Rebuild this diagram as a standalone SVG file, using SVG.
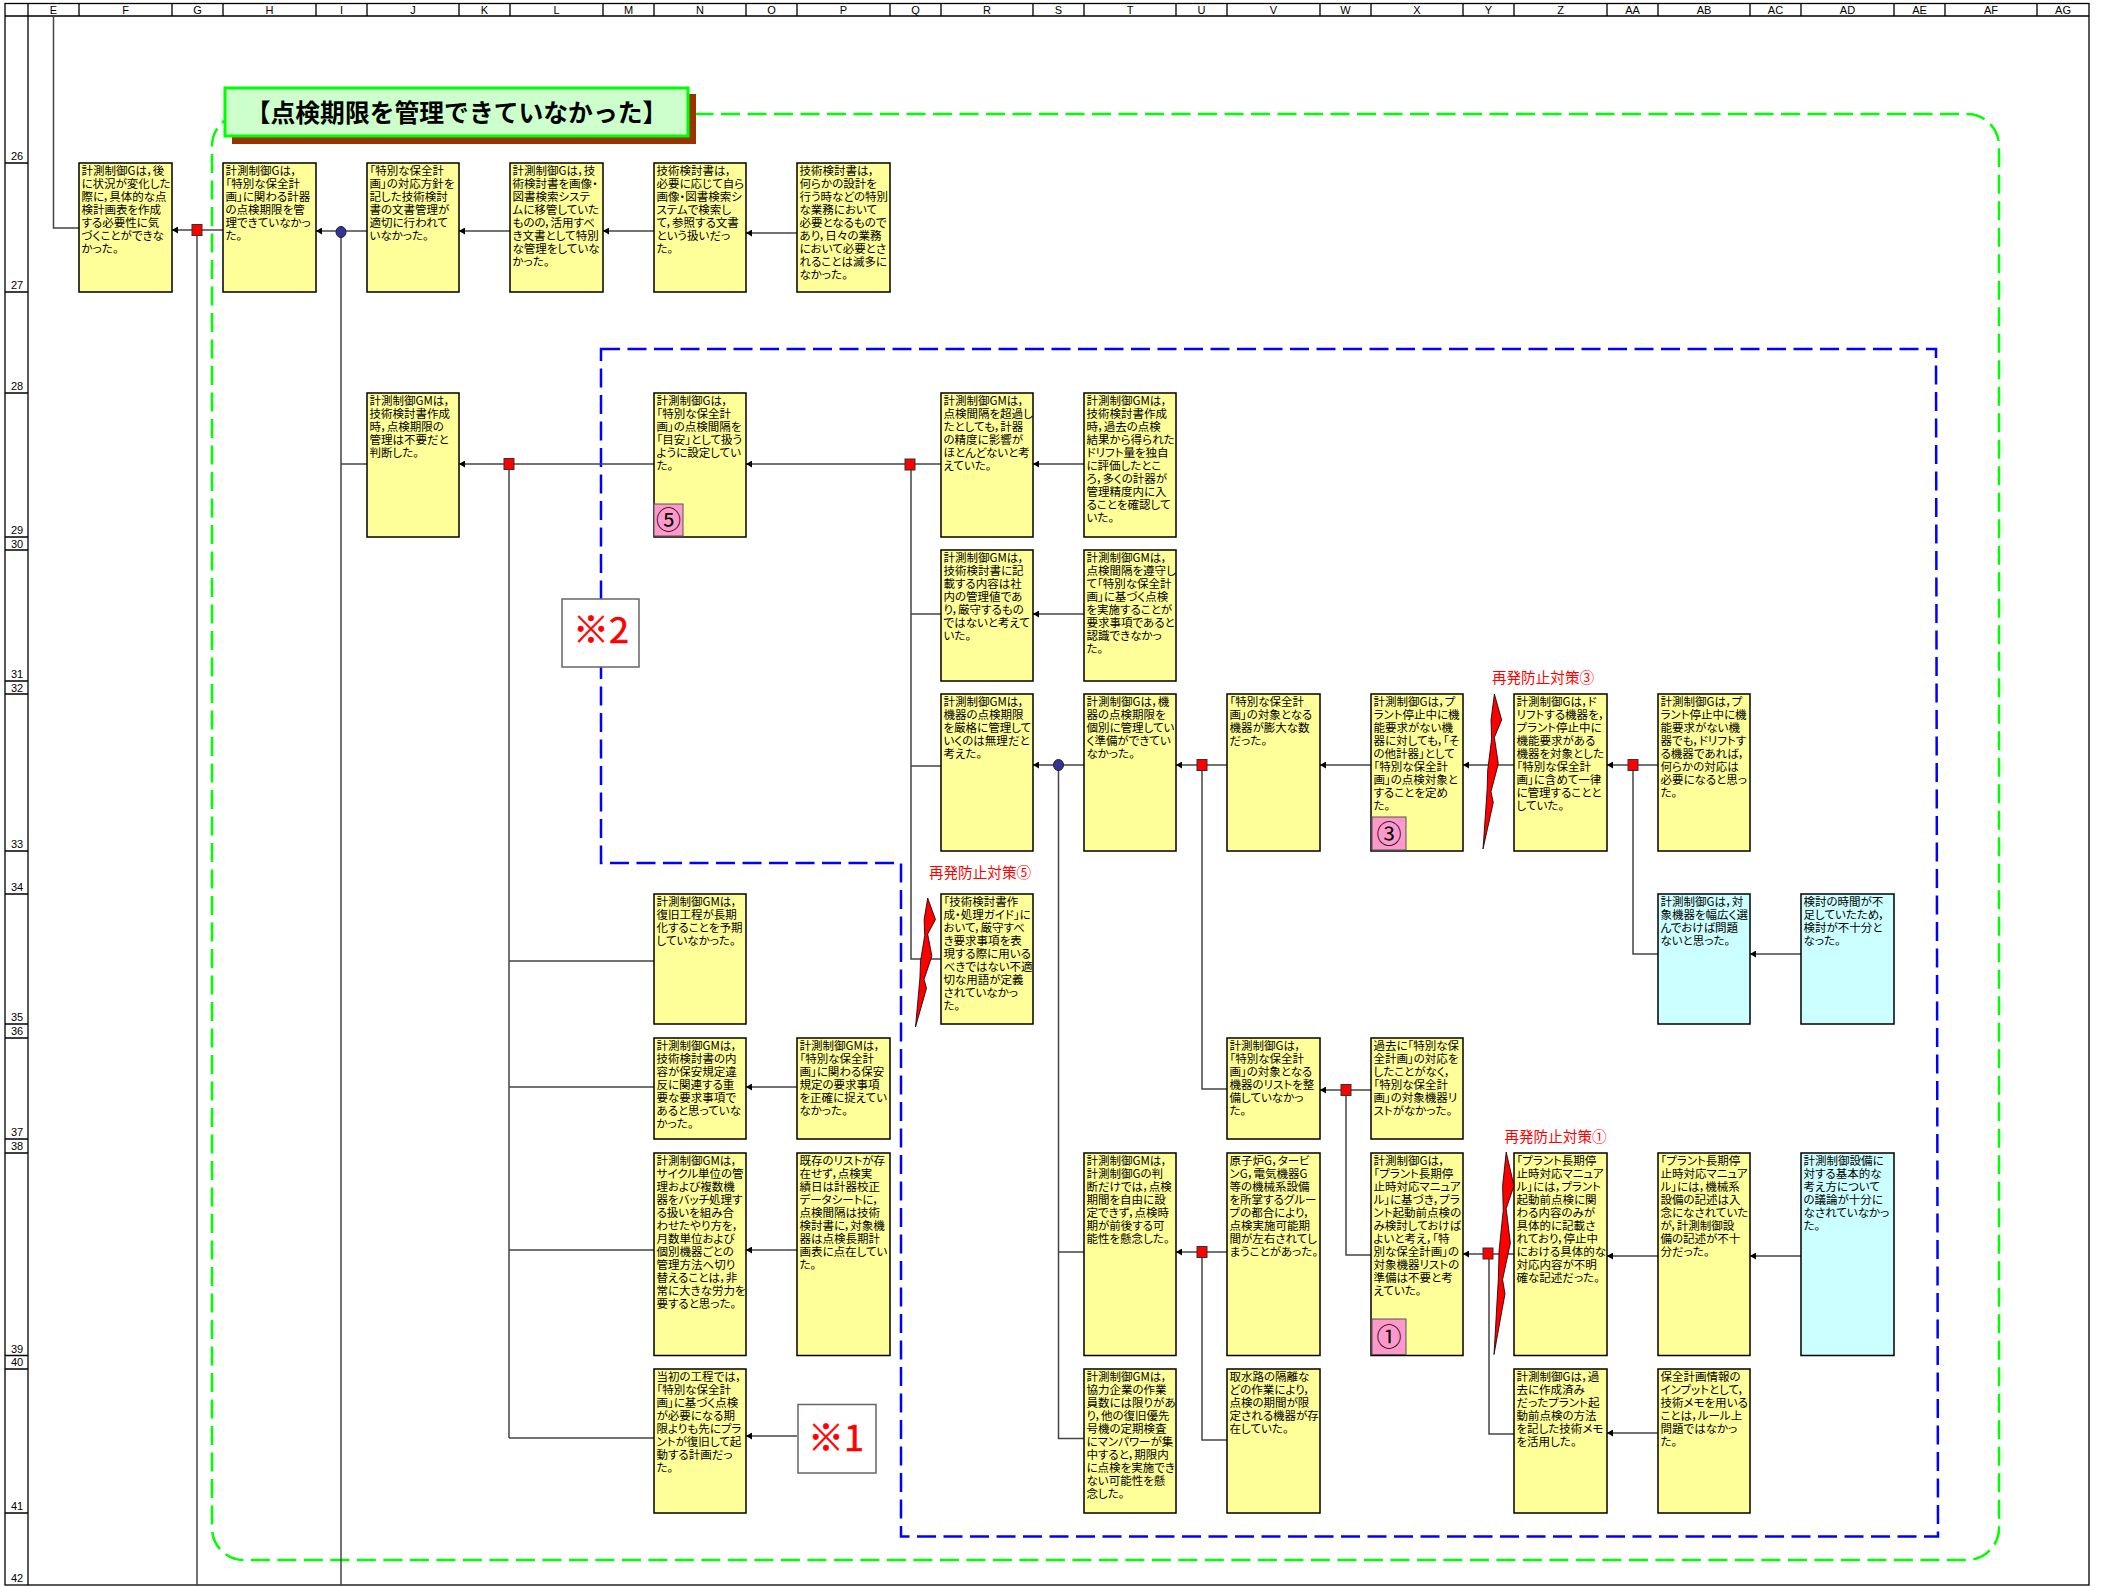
<svg xmlns="http://www.w3.org/2000/svg" width="2110" height="1586" viewBox="0 0 2110 1586">
<style>
.g{stroke:#000;stroke-width:1.3;fill:none}
.h{font:11px "Liberation Sans",Arial,sans-serif;fill:#000;text-anchor:middle}
.c{fill:none;stroke:#444;stroke-width:1.5}
.a{marker-end:url(#ah)}
.j{fill:#f00;stroke:#333;stroke-width:1}
.o{fill:#339;stroke:#222;stroke-width:1}
.y{fill:#ff9;stroke:#000;stroke-width:1.5}
.b{fill:#cff;stroke:#000;stroke-width:1.5}
.t{font-family:"Noto Sans CJK JP","Noto Sans",sans-serif;font-size:11.5px;fill:#000;font-feature-settings:"palt"}
.r{font-family:"Noto Sans CJK JP","Noto Sans",sans-serif;font-size:14.6px;fill:#f00;text-anchor:middle}
.p{fill:#f9c;stroke:#555;stroke-width:1}
.n{font-family:"Noto Sans CJK JP",sans-serif;font-size:25px;fill:#000;text-anchor:middle}
.k{fill:#fff;stroke:#666;stroke-width:1.5}
.m{font-family:"Noto Sans CJK JP","Liberation Sans",sans-serif;font-size:36px;fill:#f00;stroke:#f00;stroke-width:.6;text-anchor:middle}
.z{fill:#f00;stroke:#000;stroke-width:.8}
</style>
<defs>
<marker id="ah" markerUnits="userSpaceOnUse" markerWidth="6" markerHeight="7" refX="6" refY="3.5" orient="auto" viewBox="0 0 6 7"><path d="M0 0L6 3.5L0 7Z" fill="#000"/></marker>
</defs>
<rect width="2110" height="1586" fill="#fff"/>
<g id="grid">
<rect class="g" x="5" y="3.5" width="2084" height="1581.5"/>
<path class="g" d="M5 16H2089M28 3V1585M79 3V16M172 3V16M223 3V16M316 3V16M367 3V16M459 3V16M510 3V16M603 3V16M654 3V16M746 3V16M797 3V16M890 3V16M941 3V16M1033 3V16M1084 3V16M1176 3V16M1227 3V16M1320 3V16M1371 3V16M1463 3V16M1514 3V16M1607 3V16M1658 3V16M1750 3V16M1801 3V16M1894 3V16M1945 3V16M2037 3V16M5 163H28M5 292H28M5 393H28M5 537H28M5 550H28M5 681H28M5 694H28M5 851H28M5 894H28M5 1024H28M5 1038H28M5 1139H28M5 1153H28M5 1355.5H28M5 1369H28M5 1513H28"/>
<text class="h" x="53.5" y="14">E</text><text class="h" x="125.5" y="14">F</text><text class="h" x="197.5" y="14">G</text><text class="h" x="269.5" y="14">H</text><text class="h" x="341.5" y="14">I</text><text class="h" x="413" y="14">J</text><text class="h" x="484.5" y="14">K</text><text class="h" x="556.5" y="14">L</text><text class="h" x="628.5" y="14">M</text><text class="h" x="700" y="14">N</text><text class="h" x="771.5" y="14">O</text><text class="h" x="843.5" y="14">P</text><text class="h" x="915.5" y="14">Q</text><text class="h" x="987" y="14">R</text><text class="h" x="1058.5" y="14">S</text><text class="h" x="1130" y="14">T</text><text class="h" x="1201.5" y="14">U</text><text class="h" x="1273.5" y="14">V</text><text class="h" x="1345.5" y="14">W</text><text class="h" x="1417" y="14">X</text><text class="h" x="1488.5" y="14">Y</text><text class="h" x="1560.5" y="14">Z</text><text class="h" x="1632.5" y="14">AA</text><text class="h" x="1704" y="14">AB</text><text class="h" x="1775.5" y="14">AC</text><text class="h" x="1847.5" y="14">AD</text><text class="h" x="1919.5" y="14">AE</text><text class="h" x="1991" y="14">AF</text><text class="h" x="2063" y="14">AG</text>
<text class="h" x="17" y="160">26</text><text class="h" x="17" y="289">27</text><text class="h" x="17" y="390">28</text><text class="h" x="17" y="534">29</text><text class="h" x="17" y="547.5">30</text><text class="h" x="17" y="678">31</text><text class="h" x="17" y="691.5">32</text><text class="h" x="17" y="848">33</text><text class="h" x="17" y="891">34</text><text class="h" x="17" y="1021">35</text><text class="h" x="17" y="1035">36</text><text class="h" x="17" y="1136">37</text><text class="h" x="17" y="1150">38</text><text class="h" x="17" y="1352.5">39</text><text class="h" x="17" y="1366">40</text><text class="h" x="17" y="1510">41</text><text class="h" x="17" y="1582">42</text>
</g>
<g id="frames" fill="none" stroke-width="2.5" stroke-dasharray="19 7.5">
<path id="frame-green" stroke="#0f0" d="M244 114H1967A32 32 0 0 1 1999 146V1528A32 32 0 0 1 1967 1560H244A32 32 0 0 1 212 1528V146A32 32 0 0 1 244 114Z"/>
<path id="frame-blue" stroke="#00f" d="M601 349H1936L1938 1536.500H901V863H601Z"/>
</g>
<g id="connectors">
<path class="c" d="M79 228H53.500V16M197 230V1585M341 232V1585M367 464H341M509 464V1438M509 961H654M509 1087H654M509 1250H654M509 1438H654M911 464V959H941M911 614H941M911 766H941M1058.500 765V1438.500H1084M1058.500 1252H1084M1202 765V1089H1227M1633 765V954H1658M1346 1090V1255H1371M1202 1252V1440H1227M1489 1254V1434H1514"/>
<path class="c a" d="M223 230H172"/><path class="c a" d="M367 231H316"/><path class="c a" d="M510 231H459"/><path class="c a" d="M654 231H603"/><path class="c a" d="M797 233H746"/>
<path class="c a" d="M654 464H459"/><path class="c a" d="M941 464H746"/><path class="c a" d="M1084 464H1033"/><path class="c a" d="M1084 614H1033"/><path class="c a" d="M1084 765H1033"/>
<path class="c a" d="M1227 765H1176"/><path class="c a" d="M1371 765H1320"/><path class="c a" d="M1514 765H1463"/><path class="c a" d="M1658 765H1607"/><path class="c a" d="M1801 954H1750"/>
<path class="c a" d="M1371 1090H1320"/><path class="c a" d="M1227 1252H1176"/><path class="c a" d="M1514 1254H1463"/><path class="c a" d="M1658 1256H1607"/><path class="c a" d="M1801 1256H1750"/><path class="c a" d="M1658 1433H1607"/>
<path class="c a" d="M797 1087H746"/><path class="c a" d="M797 1250H746"/><path class="c a" d="M797 1436H746"/>
<rect class="j" x="192" y="224.500" width="10" height="11"/><rect class="j" x="504" y="458.500" width="10" height="11"/><rect class="j" x="905" y="459" width="10" height="11"/><rect class="j" x="1197" y="759.500" width="10" height="11"/><rect class="j" x="1628" y="759.500" width="10" height="11"/><rect class="j" x="1341" y="1084.500" width="10" height="11"/><rect class="j" x="1197" y="1246.500" width="10" height="11"/><rect class="j" x="1483" y="1248" width="10" height="11"/>
<ellipse class="o" cx="341" cy="232" rx="5" ry="5.500"/><ellipse class="o" cx="1058.500" cy="765" rx="5" ry="5.500"/>
</g>
<g id="n-F26" transform="translate(79,163)"><rect class="y" width="93" height="129"/><text class="t"><tspan x="2.500" y="11.500">計測制御Gは，後</tspan><tspan x="2.500" dy="13">に状況が変化した</tspan><tspan x="2.500" dy="13">際に，具体的な点</tspan><tspan x="2.500" dy="13">検計画表を作成</tspan><tspan x="2.500" dy="13">する必要性に気</tspan><tspan x="2.500" dy="13">づくことができな</tspan><tspan x="2.500" dy="13">かった。</tspan></text></g>
<g id="n-H26" transform="translate(223,163)"><rect class="y" width="93" height="129"/><text class="t"><tspan x="2.500" y="11.500">計測制御Gは，</tspan><tspan x="2.500" dy="13">「特別な保全計</tspan><tspan x="2.500" dy="13">画」に関わる計器</tspan><tspan x="2.500" dy="13">の点検期限を管</tspan><tspan x="2.500" dy="13">理できていなかっ</tspan><tspan x="2.500" dy="13">た。</tspan></text></g>
<g id="n-J26" transform="translate(367,163)"><rect class="y" width="92" height="129"/><text class="t"><tspan x="2.500" y="11.500">「特別な保全計</tspan><tspan x="2.500" dy="13">画」の対応方針を</tspan><tspan x="2.500" dy="13">記した技術検討</tspan><tspan x="2.500" dy="13">書の文書管理が</tspan><tspan x="2.500" dy="13">適切に行われて</tspan><tspan x="2.500" dy="13">いなかった。</tspan></text></g>
<g id="n-L26" transform="translate(510,163)"><rect class="y" width="93" height="129"/><text class="t"><tspan x="2.500" y="11.500">計測制御Gは，技</tspan><tspan x="2.500" dy="13">術検討書を画像・</tspan><tspan x="2.500" dy="13">図書検索システ</tspan><tspan x="2.500" dy="13">ムに移管していた</tspan><tspan x="2.500" dy="13">ものの，活用すべ</tspan><tspan x="2.500" dy="13">き文書として特別</tspan><tspan x="2.500" dy="13">な管理をしていな</tspan><tspan x="2.500" dy="13">かった。</tspan></text></g>
<g id="n-N26" transform="translate(654,163)"><rect class="y" width="92" height="129"/><text class="t"><tspan x="2.500" y="11.500">技術検討書は，</tspan><tspan x="2.500" dy="13">必要に応じて自ら</tspan><tspan x="2.500" dy="13">画像・図書検索シ</tspan><tspan x="2.500" dy="13">ステムで検索し</tspan><tspan x="2.500" dy="13">て，参照する文書</tspan><tspan x="2.500" dy="13">という扱いだっ</tspan><tspan x="2.500" dy="13">た。</tspan></text></g>
<g id="n-P26" transform="translate(797,163)"><rect class="y" width="93" height="129"/><text class="t"><tspan x="2.500" y="11.500">技術検討書は，</tspan><tspan x="2.500" dy="13">何らかの設計を</tspan><tspan x="2.500" dy="13">行う時などの特別</tspan><tspan x="2.500" dy="13">な業務において</tspan><tspan x="2.500" dy="13">必要となるもので</tspan><tspan x="2.500" dy="13">あり，日々の業務</tspan><tspan x="2.500" dy="13">において必要とさ</tspan><tspan x="2.500" dy="13">れることは滅多に</tspan><tspan x="2.500" dy="13">なかった。</tspan></text></g>
<g id="n-J28" transform="translate(367,393)"><rect class="y" width="92" height="144"/><text class="t"><tspan x="2.500" y="11.500">計測制御GMは，</tspan><tspan x="2.500" dy="13">技術検討書作成</tspan><tspan x="2.500" dy="13">時，点検期限の</tspan><tspan x="2.500" dy="13">管理は不要だと</tspan><tspan x="2.500" dy="13">判断した。</tspan></text></g>
<g id="n-N28" transform="translate(654,393)"><rect class="y" width="92" height="144"/><text class="t"><tspan x="2.500" y="11.500">計測制御Gは，</tspan><tspan x="2.500" dy="13">「特別な保全計</tspan><tspan x="2.500" dy="13">画」の点検間隔を</tspan><tspan x="2.500" dy="13">「目安」として扱う</tspan><tspan x="2.500" dy="13">ように設定してい</tspan><tspan x="2.500" dy="13">た。</tspan></text><rect class="p" x="0" y="111" width="29" height="32"/><text class="n" x="14.500" y="136">⑤</text></g>
<g id="n-R28" transform="translate(941,393)"><rect class="y" width="92" height="144"/><text class="t"><tspan x="2.500" y="11.500">計測制御GMは，</tspan><tspan x="2.500" dy="13">点検間隔を超過し</tspan><tspan x="2.500" dy="13">たとしても，計器</tspan><tspan x="2.500" dy="13">の精度に影響が</tspan><tspan x="2.500" dy="13">ほとんどないと考</tspan><tspan x="2.500" dy="13">えていた。</tspan></text></g>
<g id="n-T28" transform="translate(1084,393)"><rect class="y" width="92" height="144"/><text class="t"><tspan x="2.500" y="11.500">計測制御GMは，</tspan><tspan x="2.500" dy="13">技術検討書作成</tspan><tspan x="2.500" dy="13">時，過去の点検</tspan><tspan x="2.500" dy="13">結果から得られた</tspan><tspan x="2.500" dy="13">ドリフト量を独自</tspan><tspan x="2.500" dy="13">に評価したとこ</tspan><tspan x="2.500" dy="13">ろ，多くの計器が</tspan><tspan x="2.500" dy="13">管理精度内に入</tspan><tspan x="2.500" dy="13">ることを確認して</tspan><tspan x="2.500" dy="13">いた。</tspan></text></g>
<g id="n-R30" transform="translate(941,550)"><rect class="y" width="92" height="131"/><text class="t"><tspan x="2.500" y="11.500">計測制御GMは，</tspan><tspan x="2.500" dy="13">技術検討書に記</tspan><tspan x="2.500" dy="13">載する内容は社</tspan><tspan x="2.500" dy="13">内の管理値であ</tspan><tspan x="2.500" dy="13">り，厳守するもの</tspan><tspan x="2.500" dy="13">ではないと考えて</tspan><tspan x="2.500" dy="13">いた。</tspan></text></g>
<g id="n-T30" transform="translate(1084,550)"><rect class="y" width="92" height="131"/><text class="t"><tspan x="2.500" y="11.500">計測制御GMは，</tspan><tspan x="2.500" dy="13">点検間隔を遵守し</tspan><tspan x="2.500" dy="13">て「特別な保全計</tspan><tspan x="2.500" dy="13">画」に基づく点検</tspan><tspan x="2.500" dy="13">を実施することが</tspan><tspan x="2.500" dy="13">要求事項であると</tspan><tspan x="2.500" dy="13">認識できなかっ</tspan><tspan x="2.500" dy="13">た。</tspan></text></g>
<g id="n-R32" transform="translate(941,694)"><rect class="y" width="92" height="157"/><text class="t"><tspan x="2.500" y="11.500">計測制御GMは，</tspan><tspan x="2.500" dy="13">機器の点検期限</tspan><tspan x="2.500" dy="13">を厳格に管理して</tspan><tspan x="2.500" dy="13">いくのは無理だと</tspan><tspan x="2.500" dy="13">考えた。</tspan></text></g>
<g id="n-T32" transform="translate(1084,694)"><rect class="y" width="92" height="157"/><text class="t"><tspan x="2.500" y="11.500">計測制御Gは，機</tspan><tspan x="2.500" dy="13">器の点検期限を</tspan><tspan x="2.500" dy="13">個別に管理してい</tspan><tspan x="2.500" dy="13">く準備ができてい</tspan><tspan x="2.500" dy="13">なかった。</tspan></text></g>
<g id="n-V32" transform="translate(1227,694)"><rect class="y" width="93" height="157"/><text class="t"><tspan x="2.500" y="11.500">「特別な保全計</tspan><tspan x="2.500" dy="13">画」の対象となる</tspan><tspan x="2.500" dy="13">機器が膨大な数</tspan><tspan x="2.500" dy="13">だった。</tspan></text></g>
<g id="n-X32" transform="translate(1371,694)"><rect class="y" width="92" height="157"/><text class="t"><tspan x="2.500" y="11.500">計測制御Gは，プ</tspan><tspan x="2.500" dy="13">ラント停止中に機</tspan><tspan x="2.500" dy="13">能要求がない機</tspan><tspan x="2.500" dy="13">器に対しても，「そ</tspan><tspan x="2.500" dy="13">の他計器」として</tspan><tspan x="2.500" dy="13">「特別な保全計</tspan><tspan x="2.500" dy="13">画」の点検対象と</tspan><tspan x="2.500" dy="13">することを定め</tspan><tspan x="2.500" dy="13">た。</tspan></text><rect class="p" x="1" y="123" width="34" height="33"/><text class="n" x="18" y="149">③</text></g>
<g id="n-Z32" transform="translate(1514,694)"><rect class="y" width="93" height="157"/><text class="t"><tspan x="2.500" y="11.500">計測制御Gは，ド</tspan><tspan x="2.500" dy="13">リフトする機器を，</tspan><tspan x="2.500" dy="13">プラント停止中に</tspan><tspan x="2.500" dy="13">機能要求がある</tspan><tspan x="2.500" dy="13">機器を対象とした</tspan><tspan x="2.500" dy="13">「特別な保全計</tspan><tspan x="2.500" dy="13">画」に含めて一律</tspan><tspan x="2.500" dy="13">に管理することと</tspan><tspan x="2.500" dy="13">していた。</tspan></text></g>
<g id="n-AB32" transform="translate(1658,694)"><rect class="y" width="92" height="157"/><text class="t"><tspan x="2.500" y="11.500">計測制御Gは，プ</tspan><tspan x="2.500" dy="13">ラント停止中に機</tspan><tspan x="2.500" dy="13">能要求がない機</tspan><tspan x="2.500" dy="13">器でも，ドリフトす</tspan><tspan x="2.500" dy="13">る機器であれば，</tspan><tspan x="2.500" dy="13">何らかの対応は</tspan><tspan x="2.500" dy="13">必要になると思っ</tspan><tspan x="2.500" dy="13">た。</tspan></text></g>
<g id="n-N34" transform="translate(654,894)"><rect class="y" width="92" height="130"/><text class="t"><tspan x="2.500" y="11.500">計測制御GMは，</tspan><tspan x="2.500" dy="13">復旧工程が長期</tspan><tspan x="2.500" dy="13">化することを予期</tspan><tspan x="2.500" dy="13">していなかった。</tspan></text></g>
<g id="n-R34" transform="translate(941,894)"><rect class="y" width="92" height="130"/><text class="t"><tspan x="2.500" y="11.500">「技術検討書作</tspan><tspan x="2.500" dy="13">成・処理ガイド」に</tspan><tspan x="2.500" dy="13">おいて，厳守すべ</tspan><tspan x="2.500" dy="13">き要求事項を表</tspan><tspan x="2.500" dy="13">現する際に用いる</tspan><tspan x="2.500" dy="13">べきではない不適</tspan><tspan x="2.500" dy="13">切な用語が定義</tspan><tspan x="2.500" dy="13">されていなかっ</tspan><tspan x="2.500" dy="13">た。</tspan></text></g>
<g id="n-AB34" transform="translate(1658,894)"><rect class="b" width="92" height="130"/><text class="t"><tspan x="2.500" y="11.500">計測制御Gは，対</tspan><tspan x="2.500" dy="13">象機器を幅広く選</tspan><tspan x="2.500" dy="13">んでおけば問題</tspan><tspan x="2.500" dy="13">ないと思った。</tspan></text></g>
<g id="n-AD34" transform="translate(1801,894)"><rect class="b" width="93" height="130"/><text class="t"><tspan x="2.500" y="11.500">検討の時間が不</tspan><tspan x="2.500" dy="13">足していたため，</tspan><tspan x="2.500" dy="13">検討が不十分と</tspan><tspan x="2.500" dy="13">なった。</tspan></text></g>
<g id="n-N36" transform="translate(654,1038)"><rect class="y" width="92" height="101"/><text class="t"><tspan x="2.500" y="11.500">計測制御GMは，</tspan><tspan x="2.500" dy="13">技術検討書の内</tspan><tspan x="2.500" dy="13">容が保安規定違</tspan><tspan x="2.500" dy="13">反に関連する重</tspan><tspan x="2.500" dy="13">要な要求事項で</tspan><tspan x="2.500" dy="13">あると思っていな</tspan><tspan x="2.500" dy="13">かった。</tspan></text></g>
<g id="n-P36" transform="translate(797,1038)"><rect class="y" width="93" height="101"/><text class="t"><tspan x="2.500" y="11.500">計測制御GMは，</tspan><tspan x="2.500" dy="13">「特別な保全計</tspan><tspan x="2.500" dy="13">画」に関わる保安</tspan><tspan x="2.500" dy="13">規定の要求事項</tspan><tspan x="2.500" dy="13">を正確に捉えてい</tspan><tspan x="2.500" dy="13">なかった。</tspan></text></g>
<g id="n-V36" transform="translate(1227,1038)"><rect class="y" width="93" height="101"/><text class="t"><tspan x="2.500" y="11.500">計測制御Gは，</tspan><tspan x="2.500" dy="13">「特別な保全計</tspan><tspan x="2.500" dy="13">画」の対象となる</tspan><tspan x="2.500" dy="13">機器のリストを整</tspan><tspan x="2.500" dy="13">備していなかっ</tspan><tspan x="2.500" dy="13">た。</tspan></text></g>
<g id="n-X36" transform="translate(1371,1038)"><rect class="y" width="92" height="101"/><text class="t"><tspan x="2.500" y="11.500">過去に「特別な保</tspan><tspan x="2.500" dy="13">全計画」の対応を</tspan><tspan x="2.500" dy="13">したことがなく，</tspan><tspan x="2.500" dy="13">「特別な保全計</tspan><tspan x="2.500" dy="13">画」の対象機器リ</tspan><tspan x="2.500" dy="13">ストがなかった。</tspan></text></g>
<g id="n-N38" transform="translate(654,1153)"><rect class="y" width="92" height="202.500"/><text class="t"><tspan x="2.500" y="11.500">計測制御GMは，</tspan><tspan x="2.500" dy="13">サイクル単位の管</tspan><tspan x="2.500" dy="13">理および複数機</tspan><tspan x="2.500" dy="13">器をバッチ処理す</tspan><tspan x="2.500" dy="13">る扱いを組み合</tspan><tspan x="2.500" dy="13">わせたやり方を，</tspan><tspan x="2.500" dy="13">月数単位および</tspan><tspan x="2.500" dy="13">個別機器ごとの</tspan><tspan x="2.500" dy="13">管理方法へ切り</tspan><tspan x="2.500" dy="13">替えることは，非</tspan><tspan x="2.500" dy="13">常に大きな労力を</tspan><tspan x="2.500" dy="13">要すると思った。</tspan></text></g>
<g id="n-P38" transform="translate(797,1153)"><rect class="y" width="93" height="202.500"/><text class="t"><tspan x="2.500" y="11.500">既存のリストが存</tspan><tspan x="2.500" dy="13">在せず，点検実</tspan><tspan x="2.500" dy="13">績日は計器校正</tspan><tspan x="2.500" dy="13">データシートに，</tspan><tspan x="2.500" dy="13">点検間隔は技術</tspan><tspan x="2.500" dy="13">検討書に，対象機</tspan><tspan x="2.500" dy="13">器は点検長期計</tspan><tspan x="2.500" dy="13">画表に点在してい</tspan><tspan x="2.500" dy="13">た。</tspan></text></g>
<g id="n-T38" transform="translate(1084,1153)"><rect class="y" width="92" height="202.500"/><text class="t"><tspan x="2.500" y="11.500">計測制御GMは，</tspan><tspan x="2.500" dy="13">計測制御Gの判</tspan><tspan x="2.500" dy="13">断だけでは，点検</tspan><tspan x="2.500" dy="13">期間を自由に設</tspan><tspan x="2.500" dy="13">定できず，点検時</tspan><tspan x="2.500" dy="13">期が前後する可</tspan><tspan x="2.500" dy="13">能性を懸念した。</tspan></text></g>
<g id="n-V38" transform="translate(1227,1153)"><rect class="y" width="93" height="202.500"/><text class="t"><tspan x="2.500" y="11.500">原子炉G，タービ</tspan><tspan x="2.500" dy="13">ンG，電気機器G</tspan><tspan x="2.500" dy="13">等の機械系設備</tspan><tspan x="2.500" dy="13">を所掌するグルー</tspan><tspan x="2.500" dy="13">プの都合により，</tspan><tspan x="2.500" dy="13">点検実施可能期</tspan><tspan x="2.500" dy="13">間が左右されてし</tspan><tspan x="2.500" dy="13">まうことがあった。</tspan></text></g>
<g id="n-X38" transform="translate(1371,1153)"><rect class="y" width="92" height="202.500"/><text class="t"><tspan x="2.500" y="11.500">計測制御Gは，</tspan><tspan x="2.500" dy="13">「プラント長期停</tspan><tspan x="2.500" dy="13">止時対応マニュア</tspan><tspan x="2.500" dy="13">ル」に基づき，プラ</tspan><tspan x="2.500" dy="13">ント起動前点検の</tspan><tspan x="2.500" dy="13">み検討しておけば</tspan><tspan x="2.500" dy="13">よいと考え，「特</tspan><tspan x="2.500" dy="13">別な保全計画」の</tspan><tspan x="2.500" dy="13">対象機器リストの</tspan><tspan x="2.500" dy="13">準備は不要と考</tspan><tspan x="2.500" dy="13">えていた。</tspan></text><rect class="p" x="1" y="166" width="34" height="35.500"/><text class="n" x="18" y="193">①</text></g>
<g id="n-Z38" transform="translate(1514,1153)"><rect class="y" width="93" height="202.500"/><text class="t"><tspan x="2.500" y="11.500">「プラント長期停</tspan><tspan x="2.500" dy="13">止時対応マニュア</tspan><tspan x="2.500" dy="13">ル」には，プラント</tspan><tspan x="2.500" dy="13">起動前点検に関</tspan><tspan x="2.500" dy="13">わる内容のみが</tspan><tspan x="2.500" dy="13">具体的に記載さ</tspan><tspan x="2.500" dy="13">れており，停止中</tspan><tspan x="2.500" dy="13">における具体的な</tspan><tspan x="2.500" dy="13">対応内容が不明</tspan><tspan x="2.500" dy="13">確な記述だった。</tspan></text></g>
<g id="n-AB38" transform="translate(1658,1153)"><rect class="y" width="92" height="202.500"/><text class="t"><tspan x="2.500" y="11.500">「プラント長期停</tspan><tspan x="2.500" dy="13">止時対応マニュア</tspan><tspan x="2.500" dy="13">ル」には，機械系</tspan><tspan x="2.500" dy="13">設備の記述は入</tspan><tspan x="2.500" dy="13">念になされていた</tspan><tspan x="2.500" dy="13">が，計測制御設</tspan><tspan x="2.500" dy="13">備の記述が不十</tspan><tspan x="2.500" dy="13">分だった。</tspan></text></g>
<g id="n-AD38" transform="translate(1801,1153)"><rect class="b" width="93" height="202.500"/><text class="t"><tspan x="2.500" y="11.500">計測制御設備に</tspan><tspan x="2.500" dy="13">対する基本的な</tspan><tspan x="2.500" dy="13">考え方について</tspan><tspan x="2.500" dy="13">の議論が十分に</tspan><tspan x="2.500" dy="13">なされていなかっ</tspan><tspan x="2.500" dy="13">た。</tspan></text></g>
<g id="n-N40" transform="translate(654,1369)"><rect class="y" width="92" height="144"/><text class="t"><tspan x="2.500" y="11.500">当初の工程では，</tspan><tspan x="2.500" dy="13">「特別な保全計</tspan><tspan x="2.500" dy="13">画」に基づく点検</tspan><tspan x="2.500" dy="13">が必要になる期</tspan><tspan x="2.500" dy="13">限よりも先にプラ</tspan><tspan x="2.500" dy="13">ントが復旧して起</tspan><tspan x="2.500" dy="13">動する計画だっ</tspan><tspan x="2.500" dy="13">た。</tspan></text></g>
<g id="n-T40" transform="translate(1084,1369)"><rect class="y" width="92" height="144"/><text class="t"><tspan x="2.500" y="11.500">計測制御GMは，</tspan><tspan x="2.500" dy="13">協力企業の作業</tspan><tspan x="2.500" dy="13">員数には限りがあ</tspan><tspan x="2.500" dy="13">り，他の復旧優先</tspan><tspan x="2.500" dy="13">号機の定期検査</tspan><tspan x="2.500" dy="13">にマンパワーが集</tspan><tspan x="2.500" dy="13">中すると，期限内</tspan><tspan x="2.500" dy="13">に点検を実施でき</tspan><tspan x="2.500" dy="13">ない可能性を懸</tspan><tspan x="2.500" dy="13">念した。</tspan></text></g>
<g id="n-V40" transform="translate(1227,1369)"><rect class="y" width="93" height="144"/><text class="t"><tspan x="2.500" y="11.500">取水路の隔離な</tspan><tspan x="2.500" dy="13">どの作業により，</tspan><tspan x="2.500" dy="13">点検の期間が限</tspan><tspan x="2.500" dy="13">定される機器が存</tspan><tspan x="2.500" dy="13">在していた。</tspan></text></g>
<g id="n-Z40" transform="translate(1514,1369)"><rect class="y" width="93" height="144"/><text class="t"><tspan x="2.500" y="11.500">計測制御Gは，過</tspan><tspan x="2.500" dy="13">去に作成済み</tspan><tspan x="2.500" dy="13">だったプラント起</tspan><tspan x="2.500" dy="13">動前点検の方法</tspan><tspan x="2.500" dy="13">を記した技術メモ</tspan><tspan x="2.500" dy="13">を活用した。</tspan></text></g>
<g id="n-AB40" transform="translate(1658,1369)"><rect class="y" width="92" height="144"/><text class="t"><tspan x="2.500" y="11.500">保全計画情報の</tspan><tspan x="2.500" dy="13">インプットとして，</tspan><tspan x="2.500" dy="13">技術メモを用いる</tspan><tspan x="2.500" dy="13">ことは，ルール上</tspan><tspan x="2.500" dy="13">問題ではなかっ</tspan><tspan x="2.500" dy="13">た。</tspan></text></g>
<g id="bolt-1"><polygon class="z" points="1506.2,1152 1514,1185.800 1506.200,1208.700 1510.400,1243.100 1502.600,1279.600 1505,1293.800 1494,1354.500 1498.400,1277.600 1499,1251.200 1503.200,1210.700 1502.600,1185.800"/></g>
<g id="bolt-3"><polygon class="z" points="1494.400,694 1501.700,719.900 1494.400,737.400 1498.300,763.800 1491,791.700 1493.300,802.500 1483,849 1487.100,790.100 1487.700,770 1491.600,739 1491,719.900"/></g>
<g id="bolt-5"><polygon class="z" points="927.700,898 935.500,919.500 927.700,934.100 931.900,956.100 924.100,979.300 926.500,988.300 915.500,1027 919.900,978 920.500,961.200 924.700,935.400 924.100,919.500"/></g>
<g id="title"><rect x="232" y="94" width="464" height="50" fill="#930"/><rect x="225" y="88" width="463" height="48" fill="#cfc" stroke="#0f0" stroke-width="3"/><text x="456.500" y="122" font-family="&quot;Noto Sans CJK JP&quot;,sans-serif" font-size="24.800" font-weight="700" text-anchor="middle" fill="#000">【点検期限を管理できていなかった】</text></g>
<g id="note-1"><rect class="k" x="798" y="1404.500" width="78" height="68.500"/><text class="m" x="836" y="1451">※1</text></g>
<g id="note-2"><rect class="k" x="562" y="599" width="77" height="68"/><text class="m" x="601" y="643" font-size="40">※2</text></g>
<g id="labels"><text class="r" x="980" y="877.500">再発防止対策⑤</text><text class="r" x="1543" y="682.500">再発防止対策③</text><text class="r" x="1555.500" y="1141.500">再発防止対策①</text></g>
</svg>
